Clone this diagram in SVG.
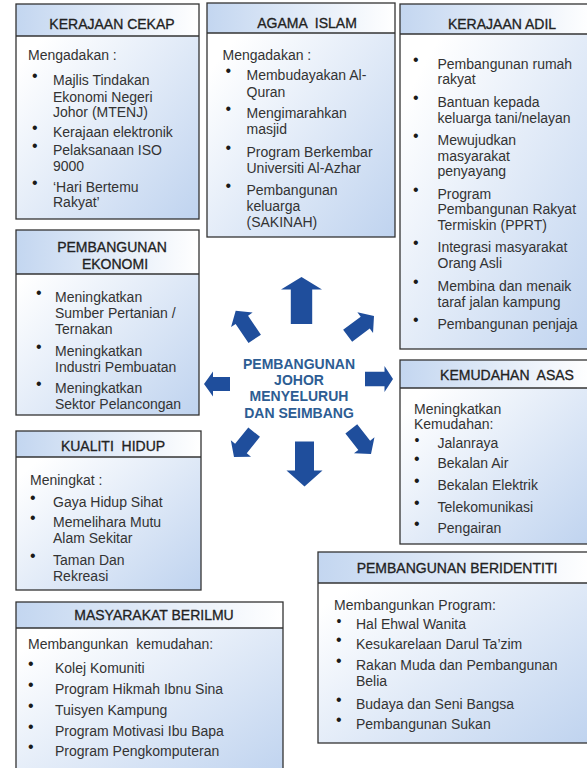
<svg xmlns="http://www.w3.org/2000/svg" width="587" height="768" viewBox="0 0 587 768">
<defs>
<linearGradient id="gh" x1="0" y1="0" x2="1" y2="0">
<stop offset="0" stop-color="#C3D6F0"/>
<stop offset="1" stop-color="#FFFFFF"/>
</linearGradient>
<linearGradient id="gb" x1="0" y1="0" x2="1" y2="1">
<stop offset="0.15" stop-color="#FFFFFF"/>
<stop offset="1" stop-color="#BFD3EF"/>
</linearGradient>
<style>
.bd{fill:url(#gb);stroke:none}
.hd{fill:url(#gh);stroke:none}
.ol{fill:none;stroke:#333;stroke-width:1.3}
.sp{stroke:#333;stroke-width:1.3}
text{font-family:"Liberation Sans",Arial,sans-serif}
.ht{font-size:14px;fill:#222;stroke:#222;stroke-width:0.3;text-anchor:middle;white-space:pre}
.t{font-size:14px;fill:#333;white-space:pre}
.bu{font-size:16px;fill:#1a1a1a}
.bs{font-size:14px;fill:#1a1a1a}
.c{font-size:14px;font-weight:bold;fill:#2D5D93;text-anchor:middle}
.ar{fill:#1F4E9C}
</style>
</defs>
<rect width="587" height="768" fill="#fff"/>

<g id="kerajaan-cekap">
<rect class="bd" x="16" y="4" width="183" height="215"/>
<rect class="hd" x="16" y="4" width="183" height="32"/>
<line class="sp" x1="16" y1="36" x2="199" y2="36"/>
<rect class="ol" x="16" y="4" width="183" height="215"/>
<text class="ht" x="112" y="28.5">KERAJAAN CEKAP</text>
<text class="t" x="28" y="60">Mengadakan :</text>
<text class="t bu" x="32" y="81">•</text>
<text class="t" x="53" y="85">Majlis Tindakan</text>
<text class="t" x="53" y="101.5">Ekonomi Negeri</text>
<text class="t" x="53" y="117">Johor (MTENJ)</text>
<text class="t bu" x="32" y="132.5">•</text>
<text class="t" x="53" y="136.5">Kerajaan elektronik</text>
<text class="t bu" x="32" y="151">•</text>
<text class="t" x="53" y="155">Pelaksanaan ISO</text>
<text class="t" x="53" y="170.5">9000</text>
<text class="t bu" x="32" y="187.5">•</text>
<text class="t" x="53" y="191.5">‘Hari Bertemu</text>
<text class="t" x="53" y="207">Rakyat’</text>
</g>

<g id="agama-islam">
<rect class="bd" x="207" y="3" width="188" height="234"/>
<rect class="hd" x="207" y="3" width="188" height="30"/>
<line class="sp" x1="207" y1="33" x2="395" y2="33"/>
<rect class="ol" x="207" y="3" width="188" height="234"/>
<text class="ht" x="307" y="28">AGAMA  ISLAM</text>
<text class="t" x="222.5" y="60">Mengadakan :</text>
<text class="t bu" x="225.5" y="76">•</text>
<text class="t" x="246.5" y="80">Membudayakan Al-</text>
<text class="t" x="246.5" y="96.5">Quran</text>
<text class="t bu" x="225.5" y="114">•</text>
<text class="t" x="246.5" y="118">Mengimarahkan</text>
<text class="t" x="246.5" y="133.5">masjid</text>
<text class="t bu" x="225.5" y="152.5">•</text>
<text class="t" x="246.5" y="156.5">Program Berkembar</text>
<text class="t" x="246.5" y="172.5">Universiti Al-Azhar</text>
<text class="t bu" x="225.5" y="191">•</text>
<text class="t" x="246.5" y="195">Pembangunan</text>
<text class="t" x="246.5" y="210.5">keluarga</text>
<text class="t" x="246.5" y="226.5">(SAKINAH)</text>
</g>

<g id="kerajaan-adil">
<rect class="bd" x="400" y="4" width="192" height="345"/>
<rect class="hd" x="400" y="4" width="192" height="30"/>
<line class="sp" x1="400" y1="34" x2="592" y2="34"/>
<rect class="ol" x="400" y="4" width="192" height="345"/>
<text class="ht" x="502" y="28.5">KERAJAAN ADIL</text>
<text class="t bu" x="413" y="64.5">•</text>
<text class="t" x="437.5" y="68.5">Pembangunan rumah</text>
<text class="t" x="437.5" y="84">rakyat</text>
<text class="t bu" x="413" y="102.5">•</text>
<text class="t" x="437.5" y="106.5">Bantuan kepada</text>
<text class="t" x="437.5" y="123">keluarga tani/nelayan</text>
<text class="t bu" x="413" y="141">•</text>
<text class="t" x="437.5" y="145">Mewujudkan</text>
<text class="t" x="437.5" y="160.5">masyarakat</text>
<text class="t" x="437.5" y="176">penyayang</text>
<text class="t bu" x="413" y="194.5">•</text>
<text class="t" x="437.5" y="198.5">Program</text>
<text class="t" x="437.5" y="214">Pembangunan Rakyat</text>
<text class="t" x="437.5" y="230">Termiskin (PPRT)</text>
<text class="t bu" x="413" y="248">•</text>
<text class="t" x="437.5" y="252">Integrasi masyarakat</text>
<text class="t" x="437.5" y="268">Orang Asli</text>
<text class="t bu" x="413" y="286.5">•</text>
<text class="t" x="437.5" y="290.5">Membina dan menaik</text>
<text class="t" x="437.5" y="306.5">taraf jalan kampung</text>
<text class="t bu" x="413" y="324.5">•</text>
<text class="t" x="437.5" y="328.5">Pembangunan penjaja</text>
</g>

<g id="pembangunan-ekonomi">
<rect class="bd" x="16" y="230" width="183" height="185"/>
<rect class="hd" x="16" y="230" width="183" height="44"/>
<line class="sp" x1="16" y1="274" x2="199" y2="274"/>
<rect class="ol" x="16" y="230" width="183" height="185"/>
<text class="ht" x="112" y="252">PEMBANGUNAN</text>
<text class="ht" x="115" y="268.5">EKONOMI</text>
<text class="t bu" x="36" y="297.5">•</text>
<text class="t" x="55" y="301.5">Meningkatkan</text>
<text class="t" x="55" y="317.5">Sumber Pertanian /</text>
<text class="t" x="55" y="333.5">Ternakan</text>
<text class="t bu" x="36" y="351.5">•</text>
<text class="t" x="55" y="355.5">Meningkatkan</text>
<text class="t" x="55" y="371.5">Industri Pembuatan</text>
<text class="t bu" x="36" y="389">•</text>
<text class="t" x="55" y="393">Meningkatkan</text>
<text class="t" x="55" y="409">Sektor Pelancongan</text>
</g>

<g id="kemudahan-asas">
<rect class="bd" x="400" y="360" width="192" height="184"/>
<rect class="hd" x="400" y="360" width="192" height="28"/>
<line class="sp" x1="400" y1="388" x2="592" y2="388"/>
<rect class="ol" x="400" y="360" width="192" height="184"/>
<text class="ht" x="507" y="379.5">KEMUDAHAN  ASAS</text>
<text class="t" x="414" y="413.5">Meningkatkan</text>
<text class="t" x="414" y="428.5">Kemudahan:</text>
<text class="t bs" x="414.5" y="445">•</text>
<text class="t" x="437.5" y="447.5">Jalanraya</text>
<text class="t bu" x="414" y="464">•</text>
<text class="t" x="437.5" y="468">Bekalan Air</text>
<text class="t bu" x="414" y="486">•</text>
<text class="t" x="437.5" y="490">Bekalan Elektrik</text>
<text class="t bu" x="414" y="507.5">•</text>
<text class="t" x="437.5" y="511.5">Telekomunikasi</text>
<text class="t bu" x="414" y="528.5">•</text>
<text class="t" x="437.5" y="532.5">Pengairan</text>
</g>

<g id="kualiti-hidup">
<rect class="bd" x="16" y="431" width="185" height="159"/>
<rect class="hd" x="16" y="431" width="185" height="26"/>
<line class="sp" x1="16" y1="457" x2="201" y2="457"/>
<rect class="ol" x="16" y="431" width="185" height="159"/>
<text class="ht" x="113" y="451">KUALITI  HIDUP</text>
<text class="t" x="30" y="485">Meningkat :</text>
<text class="t bu" x="30" y="503">•</text>
<text class="t" x="53" y="507">Gaya Hidup Sihat</text>
<text class="t bu" x="30" y="523">•</text>
<text class="t" x="53" y="527">Memelihara Mutu</text>
<text class="t" x="53" y="543">Alam Sekitar</text>
<text class="t bu" x="30" y="561">•</text>
<text class="t" x="53" y="565">Taman Dan</text>
<text class="t" x="53" y="580.5">Rekreasi</text>
</g>

<g id="pembangunan-beridentiti">
<rect class="bd" x="318" y="552" width="274" height="191"/>
<rect class="hd" x="318" y="552" width="274" height="31"/>
<line class="sp" x1="318" y1="583" x2="592" y2="583"/>
<rect class="ol" x="318" y="552" width="274" height="191"/>
<text class="ht" x="457" y="572.5">PEMBANGUNAN BERIDENTITI</text>
<text class="t" x="334" y="609.5">Membangunkan Program:</text>
<text class="t bs" x="336.5" y="626">•</text>
<text class="t" x="356" y="628.5">Hal Ehwal Wanita</text>
<text class="t bu" x="336" y="645">•</text>
<text class="t" x="356" y="649">Kesukarelaan Darul Ta’zim</text>
<text class="t bu" x="336" y="666">•</text>
<text class="t" x="356" y="670">Rakan Muda dan Pembangunan</text>
<text class="t" x="356" y="685.5">Belia</text>
<text class="t bu" x="336" y="704.5">•</text>
<text class="t" x="356" y="708.5">Budaya dan Seni Bangsa</text>
<text class="t bu" x="336" y="725">•</text>
<text class="t" x="356" y="729">Pembangunan Sukan</text>
</g>

<g id="masyarakat-berilmu">
<rect class="bd" x="16" y="602" width="267" height="175"/>
<rect class="hd" x="16" y="602" width="267" height="26"/>
<line class="sp" x1="16" y1="628" x2="283" y2="628"/>
<rect class="ol" x="16" y="602" width="267" height="175"/>
<text class="ht" x="154" y="620">MASYARAKAT BERILMU</text>
<text class="t" x="28" y="648.5">Membangunkan  kemudahan:</text>
<text class="t bu" x="28" y="668.5">•</text>
<text class="t" x="55" y="672.5">Kolej Komuniti</text>
<text class="t bu" x="28" y="690">•</text>
<text class="t" x="55" y="694">Program Hikmah Ibnu Sina</text>
<text class="t bu" x="28" y="711">•</text>
<text class="t" x="55" y="715">Tuisyen Kampung</text>
<text class="t bu" x="28" y="731.5">•</text>
<text class="t" x="55" y="735.5">Program Motivasi Ibu Bapa</text>
<text class="t bu" x="28" y="752">•</text>
<text class="t" x="55" y="756">Program Pengkomputeran</text>
</g>

<g id="pusat">
<text class="c" x="299" y="368.5">PEMBANGUNAN</text>
<text class="c" x="299" y="384.5">JOHOR</text>
<text class="c" x="299" y="401">MENYELURUH</text>
<text class="c" x="299" y="417.5">DAN SEIMBANG</text>
</g>

<g id="connectors">
<path class="ar" transform="translate(301.5,277)" d="M0,0 L20.5,12.5 L10.7,12.5 L10.7,47 L-10.7,47 L-10.7,12.5 L-20.5,12.5 Z"/>
<path class="ar" transform="translate(304.5,486.5) rotate(180)" d="M0,0 L18,16 L9.5,16 L9.5,45 L-9.5,45 L-9.5,16 L-18,16 Z"/>
<path class="ar" transform="translate(204,384) rotate(-90)" d="M0,0 L12.5,9 L7,9 L7,26 L-7,26 L-7,9 L-12.5,9 Z"/>
<path class="ar" transform="translate(393,379) rotate(90)" d="M0,0 L13,8.5 L7.3,8.5 L7.3,28 L-7.3,28 L-7.3,8.5 L-13,8.5 Z"/>
<path class="ar" transform="translate(235.7,310.7) rotate(-34)" d="M0,0 L13,11 L7.5,11 L7.5,34 L-7.5,34 L-7.5,11 L-13,11 Z"/>
<path class="ar" transform="translate(374,316) rotate(53)" d="M0,0 L13,11 L7.5,11 L7.5,33 L-7.5,33 L-7.5,11 L-13,11 Z"/>
<path class="ar" transform="translate(234,457) rotate(-141)" d="M0,0 L13,11 L7.5,11 L7.5,32 L-7.5,32 L-7.5,11 L-13,11 Z"/>
<path class="ar" transform="translate(371,454) rotate(142)" d="M0,0 L13,11 L7.5,11 L7.5,32 L-7.5,32 L-7.5,11 L-13,11 Z"/>
</g>
</svg>
